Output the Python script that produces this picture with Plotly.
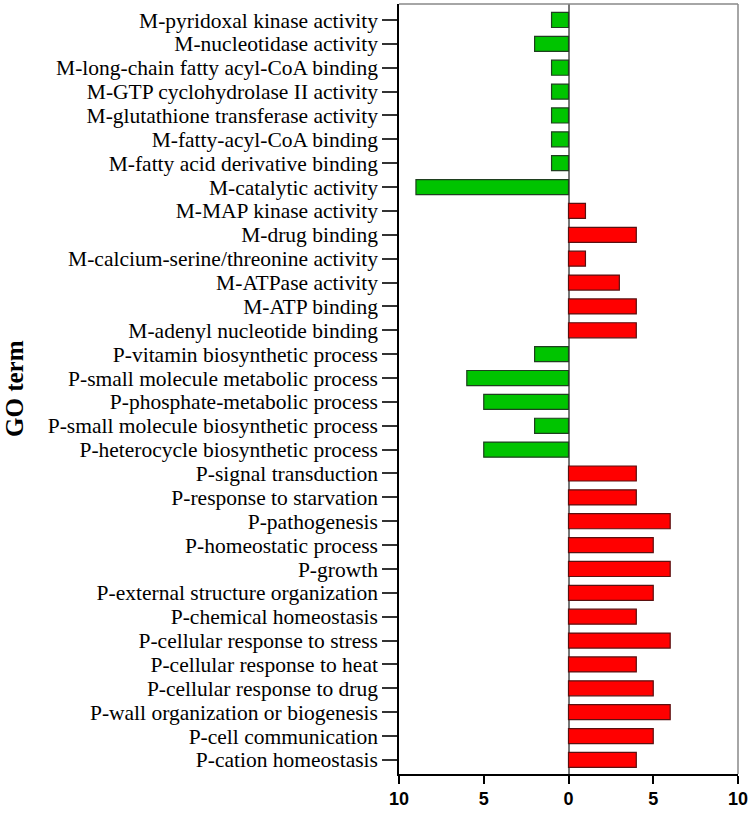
import plotly.graph_objects as go

terms = [
    "M-pyridoxal kinase activity",
    "M-nucleotidase activity",
    "M-long-chain fatty acyl-CoA binding",
    "M-GTP cyclohydrolase II activity",
    "M-glutathione transferase activity",
    "M-fatty-acyl-CoA binding",
    "M-fatty acid derivative binding",
    "M-catalytic activity",
    "M-MAP kinase activity",
    "M-drug binding",
    "M-calcium-serine/threonine activity",
    "M-ATPase activity",
    "M-ATP binding",
    "M-adenyl nucleotide binding",
    "P-vitamin biosynthetic process",
    "P-small molecule metabolic process",
    "P-phosphate-metabolic process",
    "P-small molecule biosynthetic process",
    "P-heterocycle biosynthetic process",
    "P-signal transduction",
    "P-response to starvation",
    "P-pathogenesis",
    "P-homeostatic process",
    "P-growth",
    "P-external structure organization",
    "P-chemical homeostasis",
    "P-cellular response to stress",
    "P-cellular response to heat",
    "P-cellular response to drug",
    "P-wall organization or biogenesis",
    "P-cell communication",
    "P-cation homeostasis",
]
values = [-1, -2, -1, -1, -1, -1, -1, -9, 1, 4, 1, 3, 4, 4,
          -2, -6, -5, -2, -5, 4, 4, 6, 5, 6, 5, 4, 6, 4, 5, 6, 5, 4]
x_tickvals = [-10, -5, 0, 5, 10]
x_ticktext = ["10", "5", "0", "5", "10"]

colors = ["#00C400" if v < 0 else "#FF0000" for v in values]
line_colors = ["#1f3f1f" if v < 0 else "#5a1010" for v in values]

fig = go.Figure(go.Bar(
    x=values, y=terms, orientation="h",
    marker=dict(color=colors, line=dict(color=line_colors, width=1.2)),
    width=0.63,
))

L, R, T, B = 399, 12, 4, 40
pw = 750 - L - R

fig.update_layout(
    width=750, height=814,
    margin=dict(l=L, r=R, t=T, b=B, autoexpand=False),
    plot_bgcolor="white", paper_bgcolor="white",
    showlegend=False,
    shapes=[
        dict(type="line", xref="paper", yref="paper", x0=0, x1=1, y0=1, y1=1,
             line=dict(color="#888888", width=1.5)),
        dict(type="line", xref="paper", yref="paper", x0=1, x1=1, y0=0, y1=1,
             line=dict(color="#888888", width=1.5)),
    ],
    annotations=[dict(
        text="<b>GO term</b>", xref="paper", yref="paper",
        x=(14 - L) / pw, y=0.5, xanchor="center", yanchor="middle",
        textangle=-90, showarrow=False,
        font=dict(family="Liberation Serif", size=25, color="black"),
    )],
)

fig.update_xaxes(
    range=[-10, 10], tickmode="array", tickvals=x_tickvals, ticktext=x_ticktext,
    showgrid=False, zeroline=True, zerolinecolor="#777777", zerolinewidth=1.5,
    showline=True, linecolor="black", linewidth=1.5,
    ticks="outside", ticklen=8, tickwidth=1.5, tickcolor="black",
    tickfont=dict(family="Liberation Sans", size=18, color="black", weight="bold"),
    automargin=False,
)
fig.update_yaxes(
    autorange=False, range=[31.59, -0.67],
    tickmode="array", tickvals=terms, ticktext=terms,
    showgrid=False, showline=True, linecolor="black", linewidth=1.5,
    ticks="outside", ticklen=15, tickwidth=1.5, tickcolor="#333333",
    tickfont=dict(family="Liberation Serif", size=21.5, color="black"),
    automargin=False,
)

fig.write_html("out.html", config={"displayModeBar": False},
               post_script="document.body.style.margin='0';document.body.style.overflow='hidden';")
